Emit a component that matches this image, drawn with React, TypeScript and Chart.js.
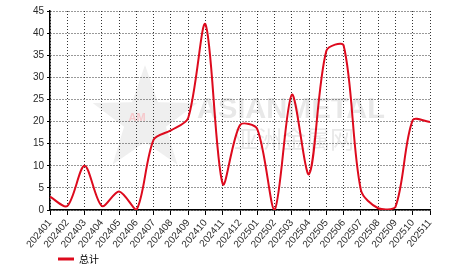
import React, { useEffect, useRef } from "react";
import { Chart, registerables } from "chart.js";

Chart.register(...registerables);

const categories = [
  "202401", "202402", "202403", "202404", "202405", "202406", "202407", "202408",
  "202409", "202410", "202411", "202412", "202501", "202502", "202503", "202504",
  "202505", "202506", "202507", "202508", "202509", "202510", "202511",
];
const totals = [
  3, 0.9, 10, 0.9, 4.2, 0, 15.9, 18, 20.8, 42, 5.9, 19.2, 18.3, 0, 26.1, 8.1, 36, 37.2, 4.5, 0.4, 0.7, 20.3, 19.9,
];
const seriesName = "总计";
const yTicks = { min: 0, max: 45, step: 5 };

const FONT = "Liberation Sans, Arial, sans-serif";
const RED = "#dd0a1d";

export default function App() {
  const ref = useRef<HTMLCanvasElement>(null);
  useEffect(() => {
    document.body.style.margin = "0";
    const ctx = ref.current!;
    const chart = new Chart(ctx, {
      type: "line",
      data: {
        labels: categories,
        datasets: [
          {
            label: seriesName,
            data: totals,
            borderColor: RED,
            backgroundColor: RED,
            borderWidth: 2,
            pointRadius: 0,
            tension: 0.3,
            fill: false,
          },
        ],
      },
      options: {
        animation: false,
        responsive: false,
        maintainAspectRatio: false,
        layout: { padding: { left: 0, right: 36, top: 11, bottom: 0 } },
        plugins: {
          tooltip: { enabled: false },
          legend: {
            position: "bottom",
            align: "start",
            labels: {
              boxWidth: 16,
              boxHeight: 3,
              padding: 4,
              color: "#333",
              font: { family: "'Noto Sans CJK SC', " + FONT, size: 10 },
              generateLabels: () => [
                {
                  text: seriesName,
                  fillStyle: RED,
                  strokeStyle: RED,
                  lineWidth: 0,
                  datasetIndex: 0,
                } as any,
              ],
            },
          },
        },
        scales: {
          x: {
            offset: false,
            grid: {
              color: "#333",
              lineWidth: 1,
              tickLength: 5,
              tickColor: "#000",
            } as any,
            border: { color: "#000", width: 1.5, dash: [1, 2] },
            ticks: {
              autoSkip: false,
              minRotation: 50,
              maxRotation: 50,
              color: "#2a2a2a",
              padding: 2,
              font: { family: FONT, size: 10 },
            },
            afterFit: (s: any) => {
              s.height = 38;
            },
          },
          y: {
            min: yTicks.min,
            max: yTicks.max,
            grid: { color: "#333", tickLength: 3, tickColor: "#000" } as any,
            border: { color: "#000", width: 1.5, dash: [1, 2] },
            ticks: {
              stepSize: yTicks.step,
              color: "#2a2a2a",
              padding: 3,
              font: { family: FONT, size: 10 },
            },
            afterFit: (s: any) => {
              s.width = 50;
            },
          },
        },
      },
      plugins: [
        {
          id: "bgWatermark",
          afterLayout: (c: any) => {
            if (c.legend) {
              c.legend.left = 54;
              c.legend.top = 250;
            }
          },
          beforeDraw: (c: any) => {
            const g = c.ctx;
            g.save();
            g.fillStyle = "#fff";
            g.fillRect(0, 0, c.width, c.height);
            // star logo
            const cx = 145, cy = 120, R = 55, r = 22;
            g.beginPath();
            for (let i = 0; i < 10; i++) {
              const a = -Math.PI / 2 + (i * Math.PI) / 5;
              const rr = i % 2 === 0 ? R : r;
              const px = cx + rr * Math.cos(a);
              const py = cy + rr * Math.sin(a);
              if (i === 0) g.moveTo(px, py);
              else g.lineTo(px, py);
            }
            g.closePath();
            g.fillStyle = "#efefef";
            g.fill();
            g.fillStyle = "#f6c9cc";
            g.font = "bold 11px " + FONT;
            g.textAlign = "center";
            g.textBaseline = "middle";
            g.fillText("AM", 137, 118);
            g.fillStyle = "#e8e8e8";
            g.font = "bold 29px " + FONT;
            g.textAlign = "left";
            g.textBaseline = "alphabetic";
            g.fillText("ASIANMETAL", 197, 118);
            g.font = "24px 'Noto Sans CJK SC', sans-serif";
            g.fillText("亚洲金属网", 234, 148);
            g.restore();
          },
        },
      ],
    });
    return () => chart.destroy();
  }, []);
  return (
    <div style={{ position: "absolute", left: 0, top: 0, width: 466, height: 272 }}>
      <canvas ref={ref} width={466} height={272} style={{ width: 466, height: 272 }} />
    </div>
  );
}
